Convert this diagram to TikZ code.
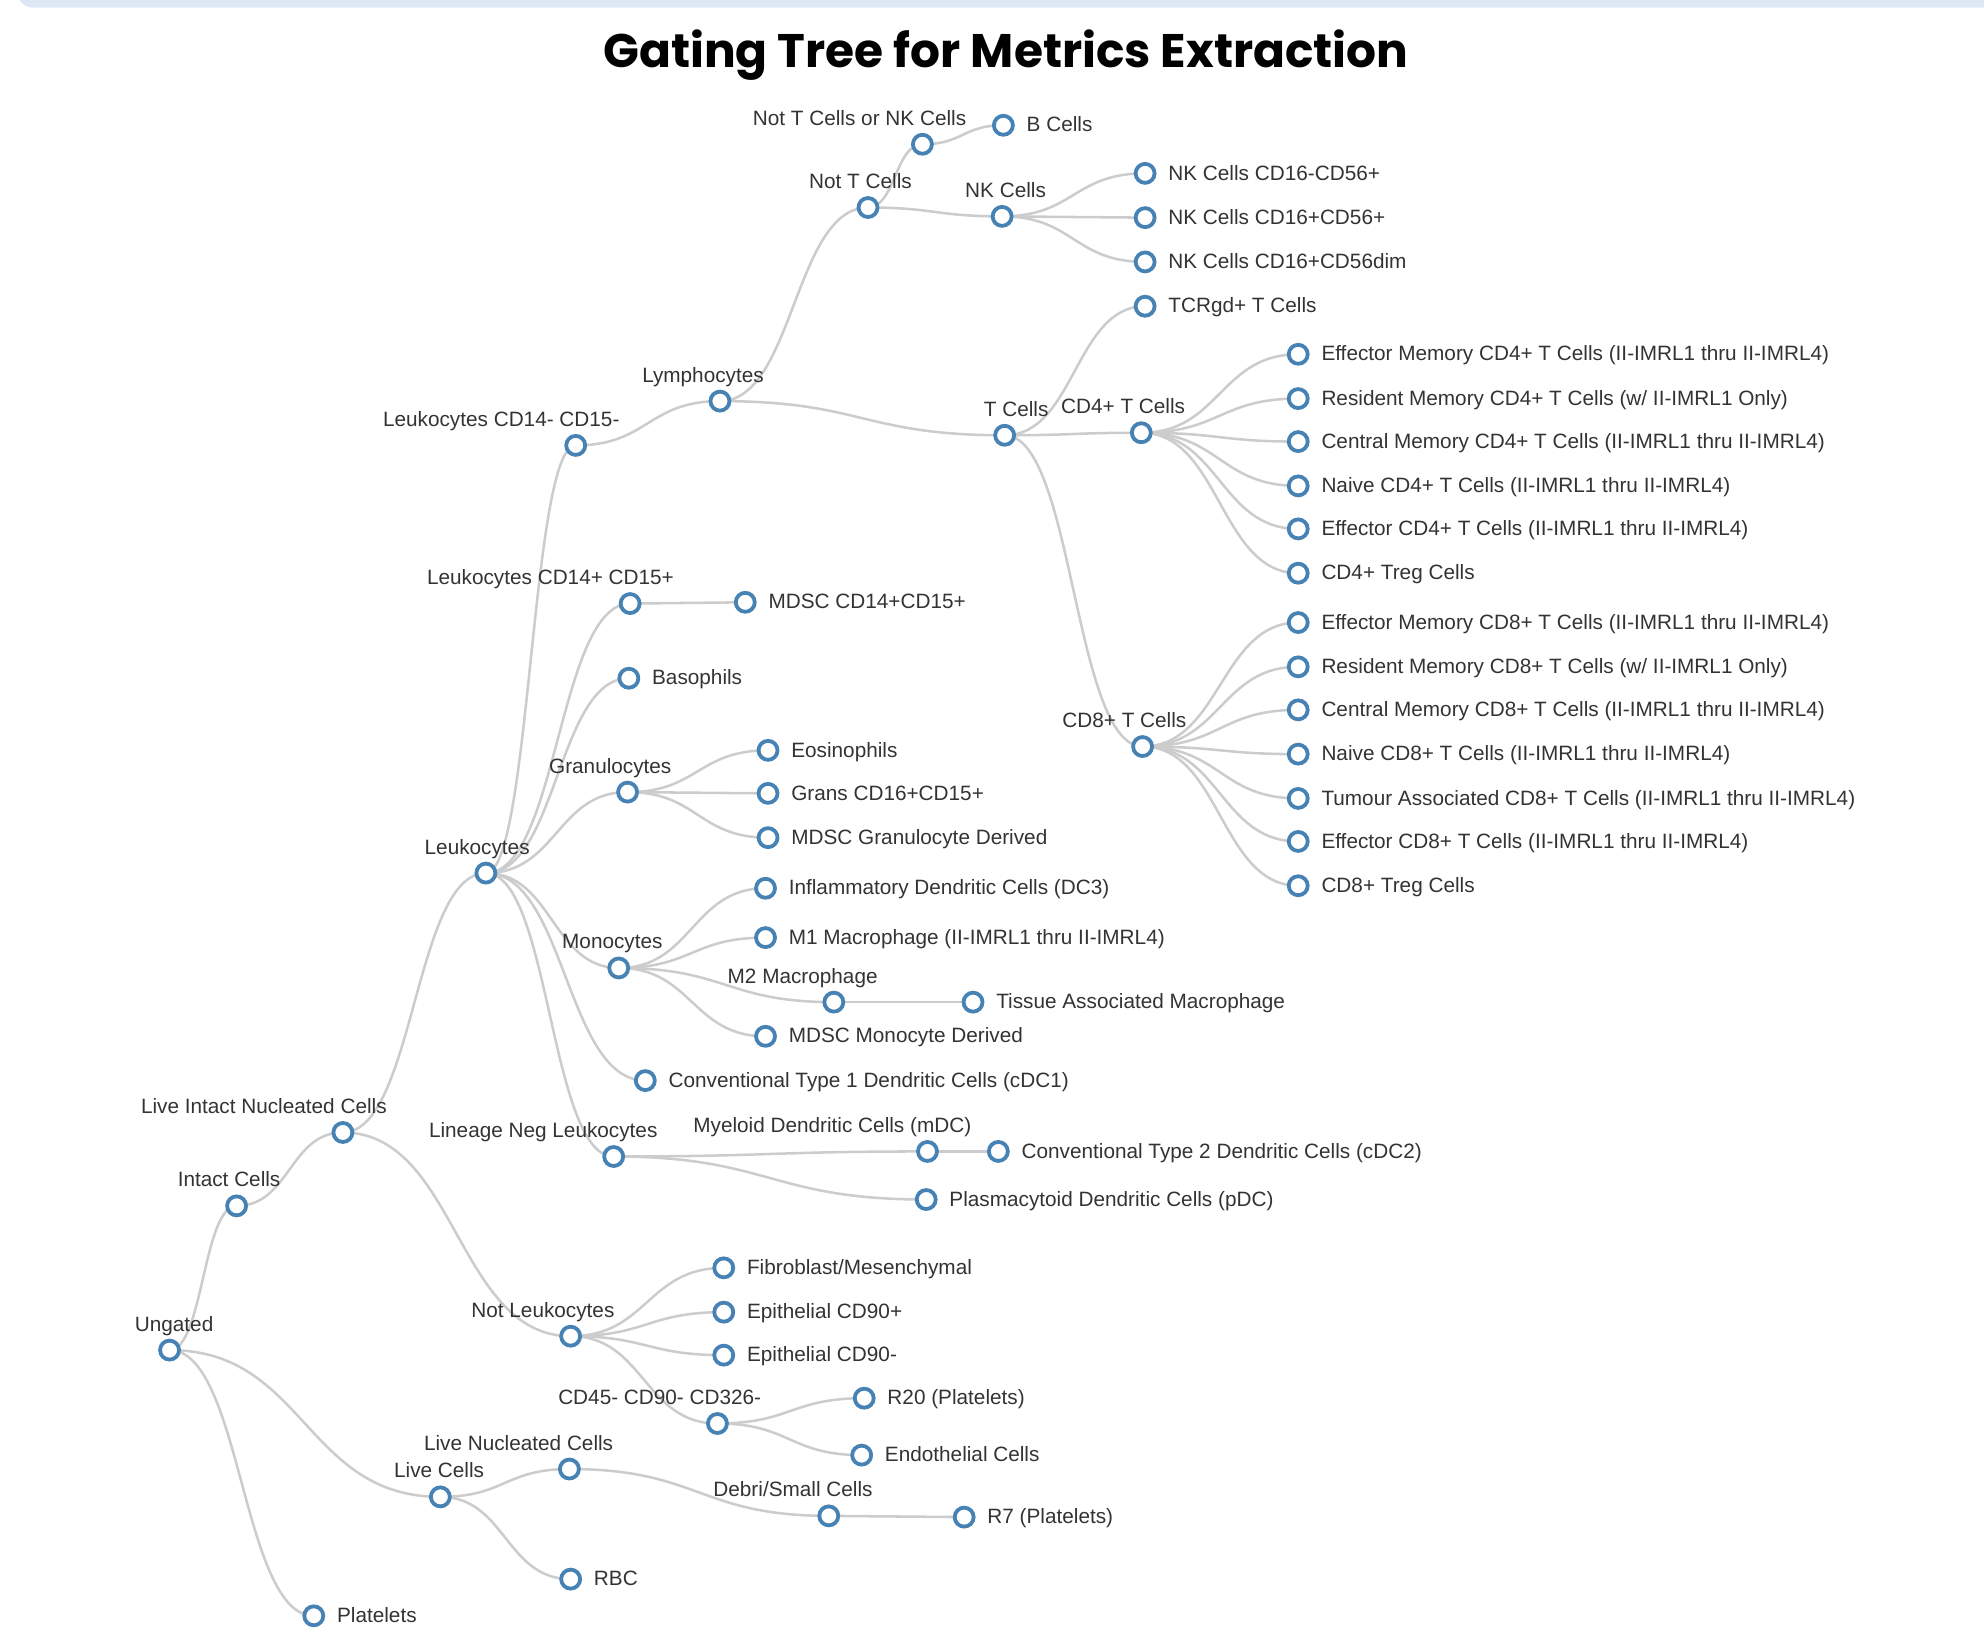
\documentclass[tikz,border=0pt]{standalone}
\usepackage{fontspec}
\setmainfont{Liberation Sans}
\newfontfamily\titlefont{Poppins}
\usetikzlibrary{calc}
\pgfdeclarelayer{bg}
\pgfsetlayers{bg,main}
\definecolor{steel}{HTML}{4682B4}
\definecolor{linkgray}{HTML}{CCCCCC}
\definecolor{txt}{HTML}{333333}
\definecolor{barblue}{HTML}{DDE8F4}
\tikzset{
  dot/.style={circle, draw=steel, fill=white, line width=1.5pt, minimum size=7.5pt, inner sep=0pt},
  ilab/.style={anchor=base east, inner sep=0pt, text=txt, font=\fontsize{8.2}{10}\selectfont},
  llab/.style={anchor=mid west, inner sep=0pt, text=txt, font=\fontsize{8.2}{10}\selectfont},
  link/.style={draw=linkgray, line width=1pt},
}
\newcommand\inode[4]{\node[dot] (#1) at (#2,#3) {}; \node[ilab] (#1-l) at ($(#1.center)+(35,-15)$) {#4};}
\newcommand\lnode[4]{\node[dot] (#1) at (#2,#3) {}; \node[llab] (#1-l) at ($(#1.center)+(18,0)$) {#4};}
\newcommand\lnk[2]{\draw[link] let \p1=(#1.center), \p2=(#2.center) in (\p1) .. controls ({0.5*\x1+0.5*\x2},\y1) and ({0.5*\x1+0.5*\x2},\y2) .. (\p2);}
\begin{document}
\begin{tikzpicture}[x=0.5pt,y=-0.5pt]
\useasboundingbox (0,0) rectangle (1568,1286);
\fill[barblue, rounded corners=6pt] (14,-30) rectangle (1620,6);
\node[anchor=base, inner sep=0pt, font=\titlefont\bfseries\fontsize{18.6}{22}\selectfont] (title) at (795,53) {Gating Tree for Metrics Extraction};

\inode{ung}{134}{1067}{Ungated}
\inode{intact}{187}{953}{Intact Cells}
\inode{linc}{271}{895}{Live Intact Nucleated Cells}
\inode{leuk}{384}{690}{Leukocytes}
\inode{lneg}{455}{352}{Leukocytes CD14- CD15-}
\inode{lymph}{569}{317}{Lymphocytes}
\inode{nott}{686}{164}{Not T Cells}
\inode{nottnk}{729}{114}{Not T Cells or NK Cells}
\lnode{bcell}{793}{99}{B Cells}
\inode{nk}{792}{171}{NK Cells}
\lnode{nka}{905}{137}{NK Cells CD16-CD56+}
\lnode{nkb}{905}{172}{NK Cells CD16+CD56+}
\lnode{nkc}{905}{207}{NK Cells CD16+CD56dim}
\inode{tcell}{794}{344}{T Cells}
\lnode{tcrgd}{905}{242}{TCRgd+ T Cells}
\inode{cdfour}{902}{342}{CD4+ T Cells}
\lnode{cdfoura}{1026}{280}{Effector Memory CD4+ T Cells (II-IMRL1 thru II-IMRL4)}
\lnode{cdfourb}{1026}{315}{Resident Memory CD4+ T Cells (w/ II-IMRL1 Only)}
\lnode{cdfourc}{1026}{349}{Central Memory CD4+ T Cells (II-IMRL1 thru II-IMRL4)}
\lnode{cdfourd}{1026}{384}{Naive CD4+ T Cells (II-IMRL1 thru II-IMRL4)}
\lnode{cdfoure}{1026}{418}{Effector CD4+ T Cells (II-IMRL1 thru II-IMRL4)}
\lnode{cdfourf}{1026}{453}{CD4+ Treg Cells}
\inode{cdeight}{903}{590}{CD8+ T Cells}
\lnode{cdeighta}{1026}{492}{Effector Memory CD8+ T Cells (II-IMRL1 thru II-IMRL4)}
\lnode{cdeightb}{1026}{527}{Resident Memory CD8+ T Cells (w/ II-IMRL1 Only)}
\lnode{cdeightc}{1026}{561}{Central Memory CD8+ T Cells (II-IMRL1 thru II-IMRL4)}
\lnode{cdeightd}{1026}{596}{Naive CD8+ T Cells (II-IMRL1 thru II-IMRL4)}
\lnode{cdeighte}{1026}{631}{Tumour Associated CD8+ T Cells (II-IMRL1 thru II-IMRL4)}
\lnode{cdeightf}{1026}{665}{Effector CD8+ T Cells (II-IMRL1 thru II-IMRL4)}
\lnode{cdeightg}{1026}{700}{CD8+ Treg Cells}
\inode{lpos}{498}{477}{Leukocytes CD14+ CD15+}
\lnode{mdscone}{589}{476}{MDSC CD14+CD15+}
\lnode{baso}{497}{536}{Basophils}
\inode{gran}{496}{626}{Granulocytes}
\lnode{eos}{607}{593}{Eosinophils}
\lnode{grans}{607}{627}{Grans CD16+CD15+}
\lnode{mdscg}{607}{662}{MDSC Granulocyte Derived}
\inode{mono}{489}{765}{Monocytes}
\lnode{dcthree}{605}{702}{Inflammatory Dendritic Cells (DC3)}
\lnode{mone}{605}{741}{M1 Macrophage (II-IMRL1 thru II-IMRL4)}
\inode{mtwo}{659}{792}{M2 Macrophage}
\lnode{tam}{769}{792}{Tissue Associated Macrophage}
\lnode{mdscm}{605}{819}{MDSC Monocyte Derived}
\lnode{cdcone}{510}{854}{Conventional Type 1 Dendritic Cells (cDC1)}
\inode{linneg}{485}{914}{Lineage Neg Leukocytes}
\inode{mdc}{733}{910}{Myeloid Dendritic Cells (mDC)}
\lnode{cdctwo}{789}{910}{Conventional Type 2 Dendritic Cells (cDC2)}
\lnode{pdc}{732}{948}{Plasmacytoid Dendritic Cells (pDC)}
\inode{notleuk}{451}{1056}{Not Leukocytes}
\lnode{fib}{572}{1002}{Fibroblast/Mesenchymal}
\lnode{epip}{572}{1037}{Epithelial CD90+}
\lnode{epim}{572}{1071}{Epithelial CD90-}
\inode{cdff}{567}{1125}{CD45- CD90- CD326-}
\lnode{rtwenty}{683}{1105}{R20 (Platelets)}
\lnode{endo}{681}{1150}{Endothelial Cells}
\inode{live}{348}{1183}{Live Cells}
\inode{lnc}{450}{1161}{Live Nucleated Cells}
\inode{debri}{655}{1198}{Debri/Small Cells}
\lnode{rseven}{762}{1199}{R7 (Platelets)}
\lnode{rbc}{451}{1248}{RBC}
\lnode{plate}{248}{1277}{Platelets}

\begin{pgfonlayer}{bg}
\lnk{ung}{intact}\lnk{ung}{live}\lnk{ung}{plate}
\lnk{intact}{linc}
\lnk{linc}{leuk}\lnk{linc}{notleuk}
\lnk{leuk}{lneg}\lnk{leuk}{lpos}\lnk{leuk}{baso}\lnk{leuk}{gran}\lnk{leuk}{mono}\lnk{leuk}{cdcone}\lnk{leuk}{linneg}
\lnk{lneg}{lymph}
\lnk{lymph}{nott}\lnk{lymph}{tcell}
\lnk{nott}{nottnk}\lnk{nott}{nk}
\lnk{nottnk}{bcell}
\lnk{nk}{nka}\lnk{nk}{nkb}\lnk{nk}{nkc}
\lnk{tcell}{tcrgd}\lnk{tcell}{cdfour}\lnk{tcell}{cdeight}
\lnk{cdfour}{cdfoura}\lnk{cdfour}{cdfourb}\lnk{cdfour}{cdfourc}\lnk{cdfour}{cdfourd}\lnk{cdfour}{cdfoure}\lnk{cdfour}{cdfourf}
\lnk{cdeight}{cdeighta}\lnk{cdeight}{cdeightb}\lnk{cdeight}{cdeightc}\lnk{cdeight}{cdeightd}\lnk{cdeight}{cdeighte}\lnk{cdeight}{cdeightf}\lnk{cdeight}{cdeightg}
\lnk{lpos}{mdscone}
\lnk{gran}{eos}\lnk{gran}{grans}\lnk{gran}{mdscg}
\lnk{mono}{dcthree}\lnk{mono}{mone}\lnk{mono}{mtwo}\lnk{mono}{mdscm}
\lnk{mtwo}{tam}
\lnk{linneg}{mdc}\lnk{linneg}{pdc}
\lnk{mdc}{cdctwo}
\lnk{notleuk}{fib}\lnk{notleuk}{epip}\lnk{notleuk}{epim}\lnk{notleuk}{cdff}
\lnk{cdff}{rtwenty}\lnk{cdff}{endo}
\lnk{live}{lnc}\lnk{live}{rbc}
\lnk{lnc}{debri}
\lnk{debri}{rseven}
\end{pgfonlayer}
\end{tikzpicture}
\end{document}
